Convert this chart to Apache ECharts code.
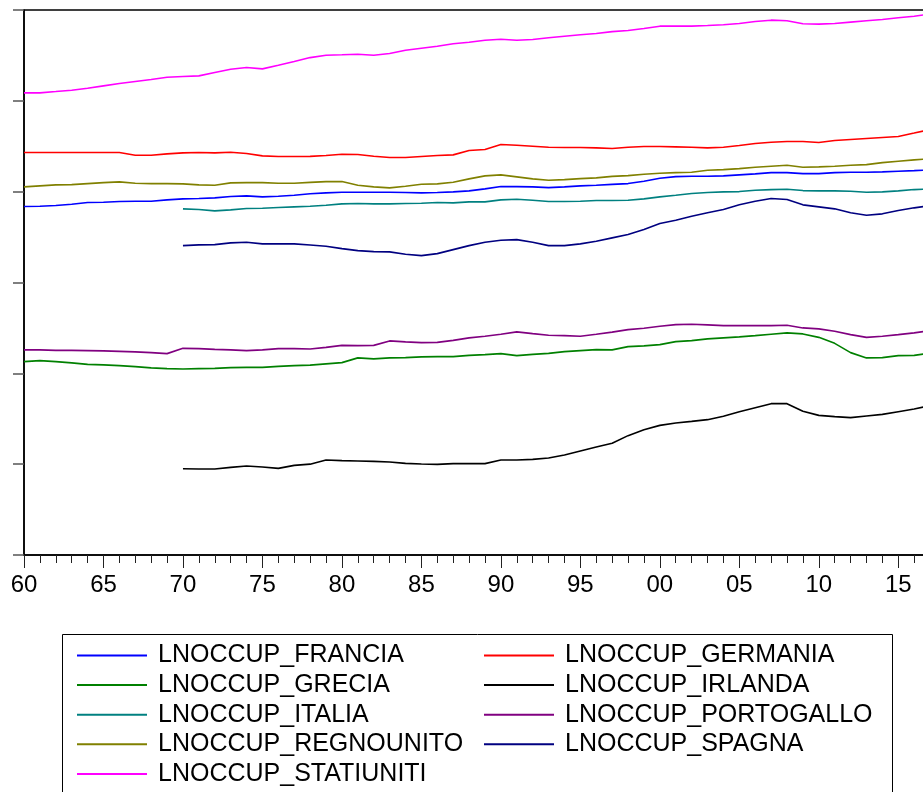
<!DOCTYPE html>
<html>
<head>
<meta charset="utf-8">
<script src="https://cdn.jsdelivr.net/npm/echarts@6/dist/echarts.min.js"></script>
<style>
  html, body { margin: 0; padding: 0; background: #fff; }
  #chart { width: 923px; height: 792px; }
</style>
</head>
<body>
<div id="chart"></div>
<script>
// Log of employment by country, annual observations
const startFull = 1960;   // series available from 1960
const startLate = 1970;   // series available from 1970

const lnFrancia = [
  9.836, 9.839, 9.847, 9.861, 9.880, 9.883, 9.891, 9.894, 9.894, 9.910,
  9.921, 9.924, 9.932, 9.946, 9.954, 9.943, 9.949, 9.960, 9.977, 9.987,
  9.993, 9.993, 9.993, 9.993, 9.990, 9.987, 9.990, 9.998, 10.009, 10.031,
  10.056, 10.056, 10.053, 10.045, 10.053, 10.064, 10.070, 10.080, 10.089, 10.115,
  10.148, 10.166, 10.170, 10.170, 10.174, 10.185, 10.196, 10.210, 10.210, 10.199,
  10.199, 10.210, 10.214, 10.214, 10.218, 10.225, 10.232, 10.240
];
const lnGermania = [
  10.431, 10.431, 10.431, 10.431, 10.432, 10.432, 10.431, 10.401, 10.401, 10.416,
  10.427, 10.431, 10.427, 10.434, 10.420, 10.394, 10.387, 10.387, 10.389, 10.398,
  10.412, 10.409, 10.390, 10.376, 10.376, 10.387, 10.398, 10.405, 10.453, 10.464,
  10.519, 10.511, 10.500, 10.489, 10.486, 10.486, 10.482, 10.476, 10.489, 10.497,
  10.497, 10.493, 10.489, 10.482, 10.489, 10.508, 10.530, 10.544, 10.552, 10.552,
  10.541, 10.563, 10.574, 10.585, 10.596, 10.607, 10.645, 10.684
];
const lnGrecia = [
  8.129, 8.140, 8.129, 8.115, 8.099, 8.093, 8.085, 8.074, 8.060, 8.052,
  8.048, 8.052, 8.055, 8.063, 8.066, 8.066, 8.077, 8.085, 8.090, 8.104,
  8.118, 8.170, 8.159, 8.170, 8.173, 8.181, 8.184, 8.184, 8.198, 8.206,
  8.217, 8.195, 8.209, 8.220, 8.239, 8.250, 8.261, 8.258, 8.294, 8.302,
  8.316, 8.349, 8.360, 8.379, 8.390, 8.401, 8.415, 8.430, 8.445, 8.434,
  8.396, 8.330, 8.228, 8.170, 8.173, 8.195, 8.198, 8.222
];
const lnIrlanda = [
  6.950, 6.947, 6.947, 6.965, 6.980, 6.969, 6.954, 6.987, 7.000, 7.046,
  7.039, 7.035, 7.031, 7.024, 7.009, 7.002, 6.998, 7.006, 7.006, 7.006,
  7.046, 7.046, 7.053, 7.068, 7.101, 7.145, 7.189, 7.231, 7.314, 7.380,
  7.427, 7.454, 7.471, 7.490, 7.527, 7.578, 7.622, 7.666, 7.666, 7.582,
  7.537, 7.523, 7.512, 7.531, 7.548, 7.578, 7.608, 7.644
];
const lnItalia = [
  9.811, 9.803, 9.789, 9.800, 9.814, 9.817, 9.825, 9.833, 9.839, 9.850,
  9.866, 9.869, 9.866, 9.866, 9.869, 9.872, 9.880, 9.877, 9.888, 9.888,
  9.910, 9.916, 9.905, 9.891, 9.891, 9.894, 9.902, 9.903, 9.905, 9.921,
  9.943, 9.960, 9.979, 9.990, 9.998, 10.001, 10.015, 10.023, 10.026, 10.012,
  10.009, 10.009, 10.004, 9.993, 9.998, 10.009, 10.023, 10.029
];
const lnPortogallo = [
  8.258, 8.258, 8.253, 8.253, 8.250, 8.247, 8.242, 8.236, 8.228, 8.217,
  8.275, 8.272, 8.264, 8.258, 8.250, 8.258, 8.272, 8.272, 8.268, 8.286,
  8.308, 8.305, 8.308, 8.357, 8.346, 8.338, 8.341, 8.363, 8.390, 8.408,
  8.430, 8.456, 8.437, 8.419, 8.415, 8.408, 8.430, 8.454, 8.481, 8.496,
  8.518, 8.536, 8.540, 8.533, 8.525, 8.525, 8.525, 8.525, 8.529, 8.500,
  8.489, 8.463, 8.426, 8.396, 8.408, 8.426, 8.445, 8.470
];
const lnRegnoUnito = [
  10.053, 10.064, 10.075, 10.078, 10.089, 10.100, 10.108, 10.093, 10.089, 10.089,
  10.086, 10.075, 10.070, 10.097, 10.100, 10.100, 10.093, 10.093, 10.102, 10.111,
  10.111, 10.070, 10.053, 10.042, 10.059, 10.081, 10.086, 10.104, 10.141, 10.174,
  10.185, 10.163, 10.141, 10.126, 10.133, 10.144, 10.152, 10.168, 10.177, 10.192,
  10.203, 10.210, 10.214, 10.236, 10.243, 10.254, 10.269, 10.280, 10.291, 10.269,
  10.273, 10.280, 10.291, 10.298, 10.320, 10.335, 10.350, 10.361
];
const lnSpagna = [
  9.406, 9.414, 9.417, 9.436, 9.443, 9.425, 9.425, 9.425, 9.412, 9.399,
  9.373, 9.351, 9.340, 9.337, 9.311, 9.296, 9.318, 9.362, 9.406, 9.443,
  9.465, 9.472, 9.443, 9.406, 9.406, 9.425, 9.454, 9.491, 9.528, 9.583,
  9.649, 9.685, 9.729, 9.767, 9.803, 9.855, 9.894, 9.924, 9.913, 9.855,
  9.833, 9.811, 9.767, 9.740, 9.756, 9.792, 9.822, 9.847
];
const lnStatiUniti = [
  11.088, 11.088, 11.102, 11.117, 11.139, 11.165, 11.191, 11.213, 11.235, 11.260,
  11.268, 11.275, 11.312, 11.348, 11.367, 11.352, 11.392, 11.433, 11.476, 11.502,
  11.507, 11.513, 11.502, 11.521, 11.557, 11.579, 11.601, 11.628, 11.645, 11.667,
  11.678, 11.667, 11.675, 11.694, 11.711, 11.727, 11.741, 11.762, 11.774, 11.796,
  11.822, 11.822, 11.822, 11.829, 11.837, 11.851, 11.873, 11.888, 11.881, 11.848,
  11.844, 11.851, 11.866, 11.881, 11.895, 11.914, 11.932, 11.955
];

const seriesDefs = [
  { name: 'LNOCCUP_FRANCIA',     color: '#0000ff', start: startFull, values: lnFrancia },
  { name: 'LNOCCUP_GERMANIA',    color: '#ff0000', start: startFull, values: lnGermania },
  { name: 'LNOCCUP_GRECIA',      color: '#008000', start: startFull, values: lnGrecia },
  { name: 'LNOCCUP_IRLANDA',     color: '#000000', start: startLate, values: lnIrlanda },
  { name: 'LNOCCUP_ITALIA',      color: '#008080', start: startLate, values: lnItalia },
  { name: 'LNOCCUP_PORTOGALLO',  color: '#800080', start: startFull, values: lnPortogallo },
  { name: 'LNOCCUP_REGNOUNITO',  color: '#808000', start: startFull, values: lnRegnoUnito },
  { name: 'LNOCCUP_SPAGNA',      color: '#000080', start: startLate, values: lnSpagna },
  { name: 'LNOCCUP_STATIUNITI',  color: '#ff00ff', start: startFull, values: lnStatiUniti }
];

const legendLeft = ['LNOCCUP_FRANCIA', 'LNOCCUP_GRECIA', 'LNOCCUP_ITALIA', 'LNOCCUP_REGNOUNITO', 'LNOCCUP_STATIUNITI'];
const legendRight = ['LNOCCUP_GERMANIA', 'LNOCCUP_IRLANDA', 'LNOCCUP_PORTOGALLO', 'LNOCCUP_SPAGNA'];

const FONT = 'Liberation Sans, Arial, sans-serif';
const pxPerYear = 15.896;

const legendCommon = {
  orient: 'vertical',
  top: 643,
  height: 300,
  padding: 0,
  itemWidth: 70,
  itemHeight: 2,
  itemGap: 4.6,
  icon: 'rect',
  selectedMode: false,
  textStyle: { fontFamily: FONT, fontSize: 25, color: '#000', padding: [0, 0, 0, 6] }
};

const chart = echarts.init(document.getElementById('chart'), null, { renderer: 'canvas' });
chart.setOption({
  animation: false,
  backgroundColor: '#fff',
  grid: {
    left: 24, top: 10, width: 60 * pxPerYear, height: 545,
    containLabel: false,
    outerBoundsMode: 'none',
    show: true, borderColor: '#000', borderWidth: 1.5, backgroundColor: 'transparent'
  },
  xAxis: {
    type: 'value',
    min: 1960, max: 2020, interval: 5,
    axisLine: { show: true, onZero: false, lineStyle: { color: '#000', width: 1.5 } },
    axisTick: { show: true, length: 13, lineStyle: { color: '#222', width: 1 } },
    minorTick: { show: true, splitNumber: 5, length: 8, lineStyle: { color: '#222', width: 1 } },
    splitLine: { show: false },
    axisLabel: {
      margin: 18,
      fontFamily: FONT, fontSize: 24, color: '#000',
      formatter: v => String(v % 100).padStart(2, '0')
    }
  },
  yAxis: {
    type: 'value',
    min: 6, max: 12, interval: 1,
    axisLine: { show: true, lineStyle: { color: '#000', width: 1.5 } },
    axisTick: { show: true, length: 11, lineStyle: { color: '#555', width: 1.5 } },
    splitLine: { show: false },
    axisLabel: { show: false }
  },
  legend: [
    Object.assign({ data: legendLeft, left: 77 }, legendCommon),
    Object.assign({ data: legendRight, left: 484 }, legendCommon)
  ],
  graphic: [{
    type: 'rect',
    shape: { x: 62.5, y: 634.5, width: 830, height: 220 },
    style: { fill: 'none', stroke: '#000', lineWidth: 1 },
    silent: true
  }],
  series: seriesDefs.map(d => ({
    name: d.name,
    type: 'line',
    color: d.color,
    symbol: 'none',
    showSymbol: false,
    lineStyle: { color: d.color, width: 1.6 },
    data: d.values.map((v, i) => [d.start + i, v])
  }))
});
</script>
</body>
</html>
